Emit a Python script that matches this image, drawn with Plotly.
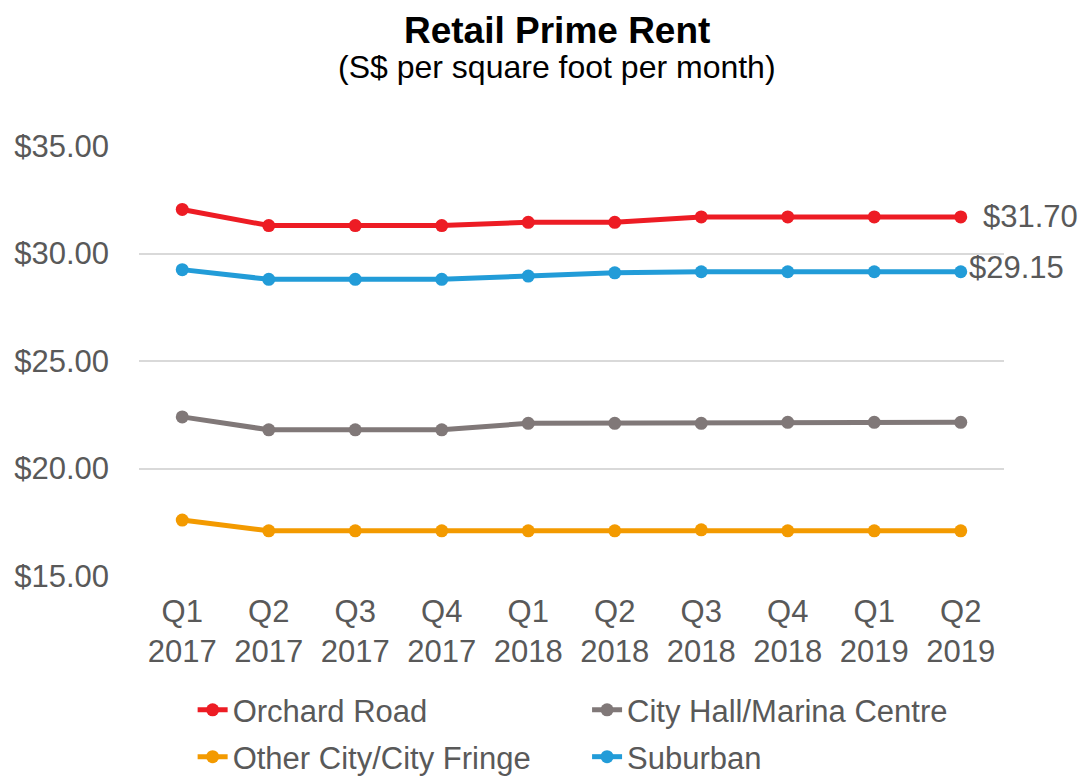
import plotly.graph_objects as go

# Quarterly prime retail rents (S$ psf pm) by planning area
quarters = ["Q1<br>2017", "Q2<br>2017", "Q3<br>2017", "Q4<br>2017",
            "Q1<br>2018", "Q2<br>2018", "Q3<br>2018", "Q4<br>2018",
            "Q1<br>2019", "Q2<br>2019"]
orchard_road = [32.05, 31.30, 31.30, 31.30, 31.45, 31.45, 31.70, 31.70, 31.70, 31.70]
city_hall_marina = [22.40, 21.80, 21.80, 21.80, 22.10, 22.10, 22.10, 22.15, 22.15, 22.15]
other_city_fringe = [17.60, 17.10, 17.10, 17.10, 17.10, 17.10, 17.15, 17.10, 17.10, 17.10]
suburban = [29.25, 28.80, 28.80, 28.80, 28.95, 29.10, 29.15, 29.15, 29.15, 29.15]

y_ticks = [15, 20, 25, 30, 35]
y_tick_text = [f"${v:.2f}" for v in y_ticks]

FONT = "Liberation Sans, Arial, sans-serif"
GREY_TEXT = "#595959"
TICK_SIZE = 31

# name, values, colour, legend slot, legend x (paper), legend y (paper)
series = [
    ("Orchard Road", orchard_road, "#ED1C24", "legend", 0.062, -0.312),
    ("City Hall/Marina Centre", city_hall_marina, "#807878", "legend2", 0.518, -0.312),
    ("Other City/City Fringe", other_city_fringe, "#F39A00", "legend3", 0.062, -0.421),
    ("Suburban", suburban, "#229CD8", "legend4", 0.518, -0.421),
]

fig = go.Figure()
legend_layouts = {}
for name, vals, color, leg, lx, ly in series:
    fig.add_trace(go.Scatter(
        x=quarters, y=vals, name=name, mode="lines+markers",
        line=dict(color=color, width=5),
        marker=dict(color=color, size=13),
        legend=leg,
    ))
    legend_layouts[leg] = dict(
        orientation="h", xref="paper", yref="paper",
        xanchor="left", yanchor="middle", x=lx, y=ly,
        font=dict(family=FONT, size=TICK_SIZE, color=GREY_TEXT),
        bgcolor="rgba(0,0,0,0)", itemwidth=30,
    )

# End-of-series value labels
fig.add_annotation(x=quarters[-1], y=orchard_road[-1], text=f"${orchard_road[-1]:.2f}",
                   xanchor="left", yanchor="middle", xshift=20, showarrow=False,
                   font=dict(family=FONT, size=TICK_SIZE, color=GREY_TEXT))
fig.add_annotation(x=quarters[-1], y=suburban[-1], text=f"${suburban[-1]:.2f}",
                   xanchor="left", yanchor="middle", xshift=6, yshift=4, showarrow=False,
                   font=dict(family=FONT, size=TICK_SIZE, color=GREY_TEXT))

# Title and subtitle
fig.add_annotation(xref="paper", yref="paper", x=0.483, y=1.0, yshift=116,
                   text="<b>Retail Prime Rent</b>", showarrow=False,
                   xanchor="center", yanchor="middle",
                   font=dict(family=FONT, size=37, color="#000000"))
fig.add_annotation(xref="paper", yref="paper", x=0.483, y=1.0, yshift=79,
                   text="(S$ per square foot per month)", showarrow=False,
                   xanchor="center", yanchor="middle",
                   font=dict(family=FONT, size=32, color="#000000"))

fig.update_layout(
    width=1084, height=777,
    margin=dict(l=139, r=80, t=146, b=201, autoexpand=False),
    paper_bgcolor="white", plot_bgcolor="white",
    font=dict(family=FONT, color=GREY_TEXT),
    xaxis=dict(
        type="category", range=[-0.5, 9.5], showgrid=False, zeroline=False,
        showline=False, ticks="", ticklabelstandoff=14,
        tickfont=dict(family=FONT, size=TICK_SIZE, color=GREY_TEXT),
        fixedrange=True,
    ),
    yaxis=dict(
        range=[15, 35], tickvals=y_ticks, ticktext=y_tick_text,
        showgrid=True, gridcolor="#D9D9D9", gridwidth=2, zeroline=False,
        showline=False, ticks="", ticklabelstandoff=29,
        tickfont=dict(family=FONT, size=TICK_SIZE, color=GREY_TEXT), fixedrange=True,
    ),
    showlegend=True,
    **legend_layouts,
)

fig.write_html("out.html")
